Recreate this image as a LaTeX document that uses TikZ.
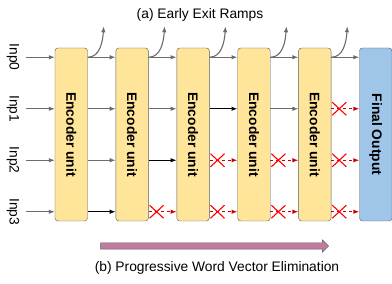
\documentclass[tikz,border=0pt]{standalone}
\usepackage{fontspec}
\setmainfont{Liberation Sans}
\usetikzlibrary{arrows.meta,positioning,calc,shapes.misc,shapes.arrows}
\definecolor{encfill}{HTML}{FFE599}
\definecolor{outfill}{HTML}{9FC5E8}
\definecolor{edgegrey}{HTML}{595959}
\definecolor{linegrey}{HTML}{6B6B6B}
\definecolor{cutred}{HTML}{CC0000}
\definecolor{progpink}{HTML}{C27BA0}

\begin{document}
\begin{tikzpicture}[x=1pt,y=1pt,
  font=\fontsize{13.8}{16}\selectfont,
  enc/.style={draw=edgegrey,rounded corners=3pt,minimum width=32.5pt,minimum height=173pt,
              inner sep=0pt,fill=encfill,font=\fontsize{13.8}{16}\selectfont\bfseries},
  inp/.style={minimum width=26pt,inner sep=0pt},
  arr/.style={-{Latex[length=6pt,width=4.5pt]},line width=1.1pt,linegrey},
  live/.style={arr,black},
  cut/.style={arr,cutred,dash pattern=on 3pt off 3pt},
  xmark/.style={cross out,draw=red,line width=1.1pt,minimum width=13pt,minimum height=12pt,inner sep=0pt}
]
\useasboundingbox (0,0) rectangle (392,284);
% encoder stack
\node[enc] (e1) at (71.25,149.5) {\rotatebox{-90}{Encoder unit}};
\node[enc,right=28pt of e1] (e2) {\rotatebox{-90}{Encoder unit}};
\node[enc,right=28pt of e2] (e3) {\rotatebox{-90}{Encoder unit}};
\node[enc,right=28pt of e3] (e4) {\rotatebox{-90}{Encoder unit}};
\node[enc,right=28pt of e4] (e5) {\rotatebox{-90}{Encoder unit}};
\node[enc,fill=outfill,right=28pt of e5] (out) {\rotatebox{-90}{Final Output}};
% inputs
\node[inp] (i0) at (13,226.75) {\rotatebox{-90}{Inp0}};
\node[inp] (i1) at (13,175.25) {\rotatebox{-90}{Inp1}};
\node[inp] (i2) at (13,123.75) {\rotatebox{-90}{Inp2}};
\node[inp] (i3) at (13,72.25) {\rotatebox{-90}{Inp3}};
\foreach \i in {i0,i1,i2,i3} \draw[arr] (\i) -- (e1.west |- \i);
% exit ramps
\foreach \e in {e1,e2,e3,e4,e5} {
  \coordinate (r\e) at ($(\e.east |- i0)+(16,31)$);
  \draw[arr] (\e.east |- i0) .. controls +(12,0) and +(-1,-16) .. (r\e);
}
% row 0
\draw[arr] (e1.east |- i0) -- (e2.west |- i0);
\draw[arr] (e2.east |- i0) -- (e3.west |- i0);
\draw[arr] (e3.east |- i0) -- (e4.west |- i0);
\draw[arr] (e4.east |- i0) -- (e5.west |- i0);
\draw[arr] (e5.east |- i0) -- (out.west |- i0);
% row 1
\draw[arr] (e1.east |- i1) -- (e2.west |- i1);
\draw[arr] (e2.east |- i1) -- (e3.west |- i1);
\draw[live] (e3.east |- i1) -- (e4.west |- i1);
\draw[arr] (e4.east |- i1) -- (e5.west |- i1);
\draw[cut] (e5.east |- i1) -- (out.west |- i1);
% row 2
\draw[arr] (e1.east |- i2) -- (e2.west |- i2);
\draw[live] (e2.east |- i2) -- (e3.west |- i2);
\draw[cut] (e3.east |- i2) -- (e4.west |- i2);
\draw[cut] (e4.east |- i2) -- (e5.west |- i2);
\draw[cut] (e5.east |- i2) -- (out.west |- i2);
% row 3
\draw[live] (e1.east |- i3) -- (e2.west |- i3);
\draw[cut] (e2.east |- i3) -- (e3.west |- i3);
\draw[cut] (e3.east |- i3) -- (e4.west |- i3);
\draw[cut] (e4.east |- i3) -- (e5.west |- i3);
\draw[cut] (e5.east |- i3) -- (out.west |- i3);
% eliminated vectors
\node[xmark] (x51) at ($(e5.east |- i1)+(8,0)$) {};
\node[xmark] (x32) at ($(e3.east |- i2)+(8,0)$) {};
\node[xmark] (x42) at ($(e4.east |- i2)+(8,0)$) {};
\node[xmark] (x52) at ($(e5.east |- i2)+(8,0)$) {};
\node[xmark] (x23) at ($(e2.east |- i3)+(8,0)$) {};
\node[xmark] (x33) at ($(e3.east |- i3)+(8,0)$) {};
\node[xmark] (x43) at ($(e4.east |- i3)+(8,0)$) {};
\node[xmark] (x53) at ($(e5.east |- i3)+(8,0)$) {};
% captions
\node (ttl) at (200,269) {(a) Early Exit Ramps};
\node[single arrow,draw=edgegrey,fill=progpink,minimum height=228pt,inner xsep=0pt,inner ysep=3pt,
      single arrow head extend=3pt,single arrow head indent=0pt] (prog) at (213,38) {};
\node (progtxt) at (217,16) {(b) Progressive Word Vector Elimination};
\end{tikzpicture}
\end{document}
